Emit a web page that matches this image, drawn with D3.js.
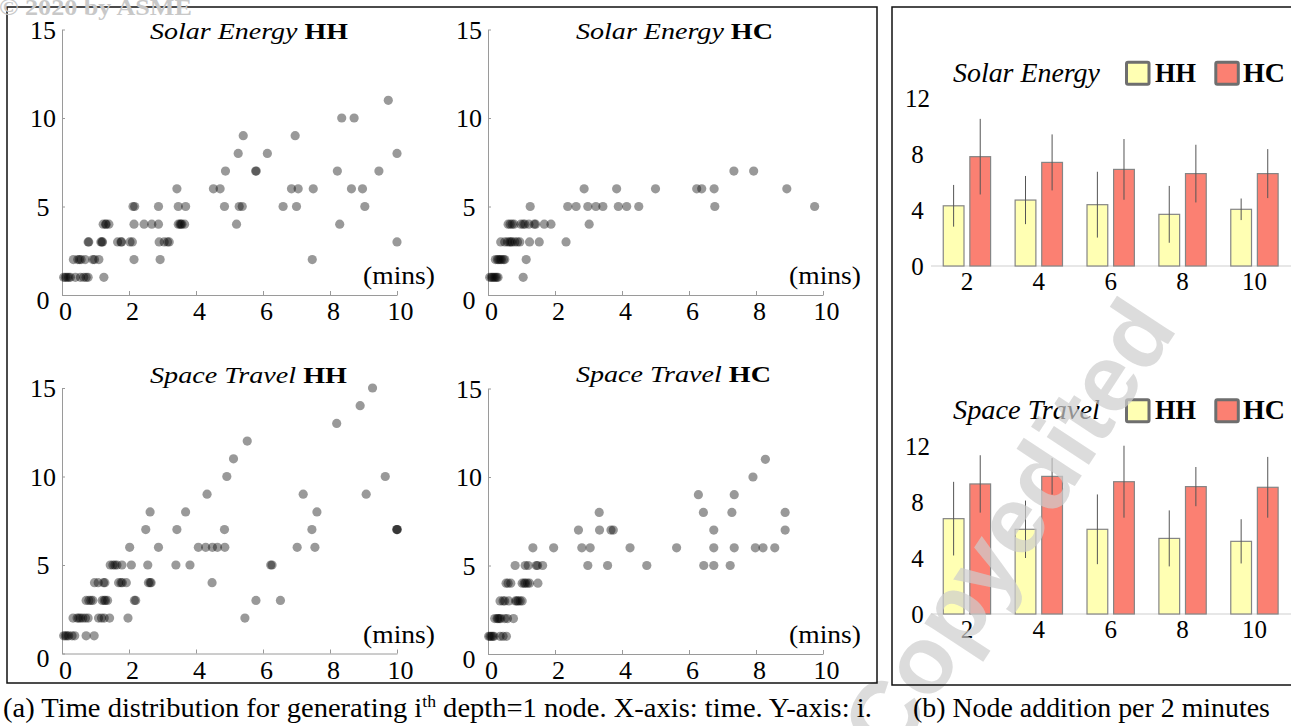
<!DOCTYPE html>
<meta charset="utf-8">
<style>
body { margin: 0; background: #fff; }
svg { display: block; }
.dot { fill: #000; fill-opacity: 0.4; }
.axis path, .axis line { stroke: #9a9a9a; stroke-width: 1px; }
.axis text { font-size: 26px; fill: #000; }
.frame { fill: none; stroke: #111; stroke-width: 1.5px; }
.bar { stroke: #858585; stroke-width: 1.2px; }
.err { stroke: #555; stroke-width: 1px; }
</style>
<body>
<script src="https://d3js.org/d3.v7.min.js"></script>
<script>

// (a) scatter: one inner list per depth-1 node index i (i = 1, 2, 3 ...), values are minutes
var solarHH = [
	[0.05, 0.1, 0.15, 0.2, 0.25, 0.4, 0.55, 0.65, 0.72, 0.78, 1.25],
	[0.34, 0.47, 0.52, 0.57, 0.69, 0.92, 0.97, 1.1, 2.15, 2.93, 7.47],
	[0.78, 0.8, 1.16, 1.19, 1.21, 1.66, 1.76, 1.78, 2.03, 2.1, 2.9, 3.05, 3.15, 3.2, 10.0],
	[1.23, 1.3, 1.32, 1.4, 2.15, 2.45, 2.68, 2.88, 3.47, 3.52, 3.55, 3.58, 3.66, 5.21, 8.29],
	[2.12, 2.17, 2.88, 3.47, 3.69, 4.85, 5.29, 5.38, 6.6, 7.0, 9.04],
	[3.43, 4.52, 4.72, 6.85, 7.05, 7.5, 8.64, 8.97],
	[4.88, 5.78, 5.8, 8.22, 9.46],
	[5.26, 6.13, 10.0],
	[5.41, 6.96],
	[8.35, 8.72],
	[9.74]
];
var solarHC = [
	[0.05, 0.1, 0.14, 0.18, 0.22, 0.26, 0.3, 1.05],
	[0.22, 0.28, 0.32, 0.36, 0.4, 0.46, 0.5, 1.14],
	[0.38, 0.5, 0.58, 0.64, 0.68, 0.72, 0.8, 0.88, 0.95, 1.24, 1.53, 2.33],
	[0.6, 0.66, 0.72, 0.78, 0.98, 1.05, 1.1, 1.22, 1.38, 1.42, 1.68, 1.88, 3.02],
	[1.26, 2.38, 2.63, 2.98, 3.22, 3.43, 3.89, 4.14, 4.5, 6.77, 9.75],
	[2.87, 3.84, 5.0, 6.23, 6.38, 6.75, 8.92],
	[7.34, 7.93]
];
var spaceHH = [
	[0.05, 0.1, 0.15, 0.2, 0.3, 0.38, 0.72, 0.96],
	[0.33, 0.45, 0.5, 0.55, 0.62, 0.7, 0.78, 1.09, 1.18, 1.26, 1.42, 1.97, 5.46],
	[0.72, 0.8, 0.86, 0.92, 1.2, 1.26, 1.3, 1.36, 2.16, 2.2, 5.79, 6.52],
	[0.97, 1.08, 1.24, 1.28, 1.69, 1.76, 1.8, 1.92, 2.58, 2.63, 2.66, 4.48],
	[1.44, 1.52, 1.58, 1.64, 1.79, 2.07, 2.56, 3.4, 3.82, 6.23, 6.27],
	[2.02, 2.88, 4.07, 4.29, 4.49, 4.64, 4.86, 7.02, 7.55],
	[2.5, 3.43, 4.85, 7.46, 9.99, 10.0, 10.01],
	[2.63, 3.69, 7.61],
	[4.33, 7.2, 9.08],
	[4.92, 9.65],
	[5.12],
	[5.53],
	[8.2],
	[8.9],
	[9.27]
];
var spaceHC = [
	[0.02, 0.06, 0.1, 0.14, 0.18, 0.36, 0.45, 0.55],
	[0.2, 0.27, 0.3, 0.34, 0.38, 0.5, 0.58, 0.76],
	[0.36, 0.45, 0.5, 0.62, 0.82, 0.86, 0.9, 0.96, 1.02],
	[0.54, 0.6, 0.68, 1.02, 1.08, 1.12, 1.18, 1.24, 1.49],
	[0.81, 1.11, 1.2, 1.44, 1.48, 1.63, 2.98, 3.57, 4.74, 6.44, 6.74, 7.23],
	[1.34, 1.96, 2.8, 3.05, 4.24, 5.63, 6.74, 7.35, 7.98, 8.21, 8.56],
	[2.7, 3.33, 3.67, 3.74, 6.74, 8.87],
	[3.32, 6.43, 7.28, 8.87],
	[6.28, 7.35],
	[7.91],
	[8.28]
];
var timeTicks = [0, 2, 4, 6, 8, 10];
var indexTicks = [0, 5, 10, 15];

// (b) bars: node addition per 2 minutes
var minutes = [2, 4, 6, 8, 10];
var series = ["HH", "HC"];
var countTicks = [0, 4, 8, 12];
var solarHHMean = [4.3, 4.71, 4.38, 3.69, 4.05];
var solarHHErr  = [1.49, 1.72, 2.35, 2.03, 0.77];
var solarHCMean = [7.81, 7.4, 6.9, 6.6, 6.6];
var solarHCErr  = [2.7, 2.0, 2.17, 2.06, 1.75];
var spaceHHMean = [6.81, 6.05, 6.05, 5.4, 5.19];
var spaceHHErr  = [2.63, 2.05, 2.49, 2.0, 1.58];
var spaceHCMean = [9.29, 9.83, 9.45, 9.1, 9.05];
var spaceHCErr  = [2.05, 1.3, 2.57, 1.4, 2.17];
var colors = { HH: "#ffffb3", HC: "#fb8072" };

// pick a Times-like face if one is installed
function hasFont(name) {
	var c = document.createElement("canvas").getContext("2d");
	var s = "mmmmwwwwiiiilll0123456789";
	c.font = "40px monospace";
	var a = c.measureText(s).width;
	c.font = "40px \"" + name + "\", monospace";
	return c.measureText(s).width != a;
}
var serifName = ["Liberation Serif", "LiberationSerif", "Times New Roman", "Tinos",
	"Nimbus Roman", "Nimbus Roman No9 L", "FreeSerif", "Noto Serif", "DejaVu Serif"]
	.filter(hasFont)[0] || "serif";
var serif = "\"" + serifName + "\", serif";
// digits in DejaVu Serif are wider than Times, squeeze plain numbers a little then
var numScale = /DejaVu/.test(serifName) ? 0.8 : 1;

var svg = d3.select("body").append("svg")
	.attr("width", 1291)
	.attr("height", 726)
	.style("font-family", serif);

svg.append("rect").attr("width", 1291).attr("height", 726).attr("fill", "#fff");

// text with parts [string, style], stretched to a measured width
function label(parent, x, y, parts, size, width, anchor) {
	var t = parent.append("text")
		.attr("font-size", size)
		.attr("text-anchor", anchor || "start");
	parts.forEach(function(p) {
		var s = t.append("tspan").text(p[0]);
		if (p[1] == "i") s.attr("font-style", "italic");
		if (p[1] == "b") s.attr("font-weight", "bold");
		if (p[1] == "sup") s.attr("font-size", size * 0.62).attr("dy", -size * 0.36);
		if (p[1] == "down") s.attr("dy", size * 0.36);
	});
	var w = t.node().getComputedTextLength();
	var sx = width ? width / w : 1;
	t.attr("transform", "translate(" + x + "," + y + ") scale(" + sx + ",1)");
	return t;
}

// squeeze a number label horizontally around its own x
function squeeze(sel) {
	if (numScale == 1) return;
	sel.each(function() {
		var t = d3.select(this);
		var x = +t.attr("x") || 0;
		t.attr("transform", "translate(" + x + ",0) scale(" + numScale + ",1) translate(" + (-x) + ",0)");
	});
}

function scatter(rows, o) {
	var x = d3.scaleLinear().domain([0, 10]).range([o.left, o.left + 335]);
	var y = d3.scaleLinear().domain([0, 15]).range([o.bottom, o.bottom - 265.5]);
	var g = svg.append("g");

	var xa = g.append("g").attr("class", "axis")
		.attr("transform", "translate(0," + o.bottom + ")")
		.call(d3.axisBottom(x).tickValues(timeTicks).tickSize(-4).tickSizeOuter(0));
	xa.attr("font-family", null);
	xa.selectAll("text").attr("y", 25).attr("dy", null).attr("x", 3).call(squeeze);

	var ya = g.append("g").attr("class", "axis")
		.attr("transform", "translate(" + o.left + ",0)")
		.call(d3.axisLeft(y).tickValues(indexTicks).tickSize(-3).tickSizeOuter(0));
	ya.attr("font-family", null);
	ya.selectAll("text")
		.attr("text-anchor", "middle")
		.attr("x", -19)
		.attr("dy", function(d) { return d == 0 ? "0.5em" : "0.34em"; })
		.call(squeeze);

	var pts = [];
	rows.forEach(function(r, k) {
		r.forEach(function(t) { pts.push({ t: t, i: k + 1 }); });
	});
	g.selectAll(".dot")
		.data(pts)
		.enter().append("circle")
			.attr("class", "dot")
			.attr("cx", function(d) { return x(d.t); })
			.attr("cy", function(d) { return y(d.i); })
			.attr("r", 4.6);

	label(g, o.left + 88, o.titleY, [[o.name + " ", "i"], [o.group, "b"]], 24, o.titleW);
	label(g, o.left + 373, o.bottom - 11, [["(mins)"]], 26, 72, "end");
}

scatter(solarHH, { left: 62, bottom: 295, titleY: 39, titleW: 198, name: "Solar Energy", group: "HH" });
scatter(solarHC, { left: 488, bottom: 295, titleY: 39, titleW: 197, name: "Solar Energy", group: "HC" });
scatter(spaceHH, { left: 62, bottom: 653.5, titleY: 382.5, titleW: 197, name: "Space Travel", group: "HH" });
scatter(spaceHC, { left: 488, bottom: 654, titleY: 382, titleW: 195, name: "Space Travel", group: "HC" });

function bars(name, hhMean, hhErr, hcMean, hcErr, base, legendY) {
	var x0 = d3.scaleBand().domain(minutes).range([931, 1290.4]);
	var x1 = d3.scaleBand().domain(series).range([12.25, 59.6]).paddingInner(0.22);
	var y = d3.scaleLinear().domain([0, 12]).range([base, base - 168]);
	var g = svg.append("g");

	var rows = minutes.map(function(m, k) {
		return [
			{ m: m, s: "HH", v: hhMean[k], e: hhErr[k] },
			{ m: m, s: "HC", v: hcMean[k], e: hcErr[k] }
		];
	}).flat();

	g.append("line")
		.attr("x1", 931).attr("x2", 1291)
		.attr("y1", y(0)).attr("y2", y(0))
		.attr("stroke", "#cfcfcf");

	g.selectAll(".bar")
		.data(rows)
		.enter().append("rect")
			.attr("class", "bar")
			.attr("x", function(d) { return x0(d.m) + x1(d.s); })
			.attr("width", x1.bandwidth())
			.attr("y", function(d) { return y(d.v); })
			.attr("height", function(d) { return y(0) - y(d.v); })
			.attr("fill", function(d) { return colors[d.s]; });

	g.selectAll(".err")
		.data(rows)
		.enter().append("line")
			.attr("class", "err")
			.attr("x1", function(d) { return x0(d.m) + x1(d.s) + x1.bandwidth() / 2; })
			.attr("x2", function(d) { return x0(d.m) + x1(d.s) + x1.bandwidth() / 2; })
			.attr("y1", function(d) { return y(d.v + d.e); })
			.attr("y2", function(d) { return y(d.v - d.e); });

	g.selectAll(".ytick")
		.data(countTicks)
		.enter().append("text")
			.attr("x", 917.5)
			.attr("y", function(d) { return y(d); })
			.attr("dy", "0.34em")
			.attr("text-anchor", "middle")
			.attr("font-size", 25)
			.text(function(d) { return d; })
			.call(squeeze);

	g.selectAll(".xtick")
		.data(minutes)
		.enter().append("text")
			.attr("x", function(d) { return x0(d) + x0.bandwidth() / 2; })
			.attr("y", base + 24)
			.attr("text-anchor", "middle")
			.attr("font-size", 25)
			.text(function(d) { return d; })
			.call(squeeze);

	// legend
	label(g, 953, legendY, [[name, "i"]], 28, 147);
	var sw = [[1126.5, "HH", 1155, 41], [1215.8, "HC", 1243, 42]];
	sw.forEach(function(s) {
		g.append("rect")
			.attr("x", s[0]).attr("y", legendY - 19.5)
			.attr("width", 22.5).attr("height", 22)
			.attr("rx", 1.5)
			.attr("fill", colors[s[1]])
			.attr("stroke", "#6e6e6e").attr("stroke-width", 3);
		label(g, s[2], legendY, [[s[1], "b"]], 27, s[3]);
	});
}

bars("Solar Energy", solarHHMean, solarHHErr, solarHCMean, solarHCErr, 266, 81.7);
bars("Space Travel", spaceHHMean, spaceHHErr, spaceHCMean, spaceHCErr, 614, 419.3);

// diagonal watermark, over the bars but under the frames and captions;
// font size is set so the word spans about 520px whatever sans face is found
var mark = svg.append("text")
	.attr("transform", "translate(1015,532) rotate(-56.7)")
	.attr("text-anchor", "middle")
	.attr("dy", "0.26em")
	.attr("font-family", "Liberation Sans, Arial, sans-serif")
	.attr("font-weight", "bold")
	.attr("font-size", 100)
	.attr("fill", "#cdcdcd")
	.attr("fill-opacity", 0.7)
	.text("Copyedited");
mark.attr("font-size", 100 * 520 / mark.node().getComputedTextLength());

// frames
svg.append("rect").attr("class", "frame")
	.attr("x", 7).attr("y", 7).attr("width", 870).attr("height", 676);
svg.append("rect").attr("class", "frame")
	.attr("x", 892).attr("y", 7).attr("width", 420).attr("height", 678);

label(svg, -1, 15, [["\u00a9 2020 by ASME", "b"]], 24, 193).attr("fill", "#c8c8c8");

// captions
label(svg, 3, 717, [["(a) Time distribution for generating i"], ["th", "sup"],
	[" depth=1 node. X-axis: time. Y-axis: i.", "down"]], 28, 869);
label(svg, 913, 717, [["(b) Node addition per 2 minutes"]], 28, 357);

</script>
</body>
